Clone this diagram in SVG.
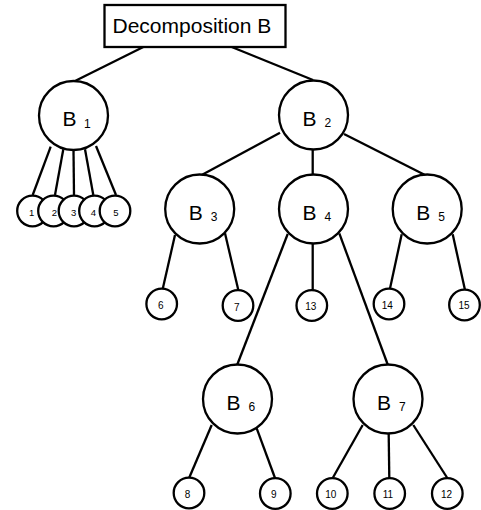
<svg xmlns="http://www.w3.org/2000/svg" width="481" height="510" viewBox="0 0 481 510">
<style>
.n{fill:#fff;stroke:#000;stroke-width:2.3}
.c line{stroke:#000;stroke-width:2.3}
.t{font-family:"Liberation Sans",Arial,sans-serif;fill:#000}
.big{font-size:21px}
.sub{font-size:12px}
.leaf{font-size:10px;text-anchor:middle}
.lf1{font-size:9.5px;text-anchor:middle}
</style>
<rect width="481" height="510" fill="#fff"/>
<g class="c" id="connectors">
<line x1="143.3" y1="47" x2="75" y2="81"/>
<line x1="231.7" y1="47" x2="313" y2="80"/>
<line x1="50.7" y1="146.7" x2="32.7" y2="195"/>
<line x1="63.3" y1="149.3" x2="55" y2="195"/>
<line x1="73.5" y1="150" x2="74" y2="195"/>
<line x1="85" y1="149.3" x2="93.3" y2="195"/>
<line x1="96" y1="146" x2="116" y2="195"/>
<line x1="280" y1="132.7" x2="201.7" y2="175"/>
<line x1="312.7" y1="150" x2="312.7" y2="175"/>
<line x1="344" y1="134" x2="425" y2="175"/>
<line x1="175" y1="235" x2="162.7" y2="289"/>
<line x1="225" y1="233.3" x2="238.3" y2="290"/>
<line x1="312.7" y1="243.3" x2="312.7" y2="290"/>
<line x1="287.7" y1="234" x2="237.3" y2="364.5"/>
<line x1="339.3" y1="233.3" x2="387.7" y2="364.5"/>
<line x1="401.7" y1="234.3" x2="390" y2="288.5"/>
<line x1="452.7" y1="234.3" x2="465" y2="290"/>
<line x1="211.7" y1="425" x2="189.3" y2="477.5"/>
<line x1="256.7" y1="428.3" x2="275" y2="478"/>
<line x1="362.7" y1="425" x2="332.7" y2="478"/>
<line x1="388.7" y1="434" x2="389.3" y2="478"/>
<line x1="413.3" y1="425" x2="447.3" y2="478"/>
</g>
<g id="title">
<rect class="n" x="104.5" y="5" width="181" height="42"/>
<text class="t big" x="112.5" y="33.3">Decomposition B</text>
</g>
<g id="B1"><circle class="n" cx="73.5" cy="115.5" r="34.5"/><text class="t big" x="62.5" y="126">B<tspan class="sub" x="84" y="127.7">1</tspan></text></g>
<g id="B2"><circle class="n" cx="313.5" cy="115" r="34.5"/><text class="t big" x="302.5" y="125.5">B<tspan class="sub" x="324.5" y="127.2">2</tspan></text></g>
<g id="B3"><circle class="n" cx="199.7" cy="209" r="34.5"/><text class="t big" x="188.7" y="219.5">B<tspan class="sub" x="210.7" y="221.2">3</tspan></text></g>
<g id="B4"><circle class="n" cx="313.5" cy="209" r="34.5"/><text class="t big" x="302.5" y="219.5">B<tspan class="sub" x="324.5" y="221.2">4</tspan></text></g>
<g id="B5"><circle class="n" cx="427.2" cy="209" r="34.5"/><text class="t big" x="416.2" y="219.5">B<tspan class="sub" x="438.2" y="221.2">5</tspan></text></g>
<g id="B6"><circle class="n" cx="237.5" cy="399" r="34.5"/><text class="t big" x="226.5" y="409.5">B<tspan class="sub" x="248.5" y="411.2">6</tspan></text></g>
<g id="B7"><circle class="n" cx="388" cy="399" r="34.5"/><text class="t big" x="377" y="409.5">B<tspan class="sub" x="399" y="411.2">7</tspan></text></g>
<g id="L1"><circle class="n" cx="32.5" cy="211" r="15.3"/><text class="t lf1" x="31.7" y="215.7">1</text></g>
<g id="L2"><circle class="n" cx="53.5" cy="211" r="15.3"/><text class="t lf1" x="54.5" y="215.7">2</text></g>
<g id="L3"><circle class="n" cx="74" cy="211" r="15.3"/><text class="t lf1" x="73.7" y="215.7">3</text></g>
<g id="L4"><circle class="n" cx="94.5" cy="211" r="15.3"/><text class="t lf1" x="93.5" y="215.7">4</text></g>
<g id="L5"><circle class="n" cx="115" cy="211" r="15.3"/><text class="t lf1" x="115.8" y="215.7">5</text></g>
<g id="L6"><circle class="n" cx="161.7" cy="304" r="15.3"/><text class="t leaf" x="160.7" y="309.3">6</text></g>
<g id="L7"><circle class="n" cx="238" cy="305.5" r="15.3"/><text class="t leaf" x="236.8" y="310.7">7</text></g>
<g id="L13"><circle class="n" cx="311.8" cy="305.5" r="15.3"/><text class="t leaf" x="310.8" y="310">13</text></g>
<g id="L14"><circle class="n" cx="389" cy="304" r="15.3"/><text class="t leaf" x="387.2" y="308.7">14</text></g>
<g id="L15"><circle class="n" cx="464.5" cy="305" r="15.3"/><text class="t leaf" x="464" y="309.3">15</text></g>
<g id="L8"><circle class="n" cx="189" cy="493" r="15.3"/><text class="t leaf" x="187.5" y="497.7">8</text></g>
<g id="L9"><circle class="n" cx="275.3" cy="493.5" r="15.3"/><text class="t leaf" x="273.8" y="497.7">9</text></g>
<g id="L10"><circle class="n" cx="332.3" cy="493.5" r="15.3"/><text class="t leaf" x="330.8" y="497.7">10</text></g>
<g id="L11"><circle class="n" cx="389.7" cy="493.5" r="15.3"/><text class="t leaf" x="388" y="497.7">11</text></g>
<g id="L12"><circle class="n" cx="447.3" cy="493.5" r="15.3"/><text class="t leaf" x="446.5" y="497.7">12</text></g>
</svg>
